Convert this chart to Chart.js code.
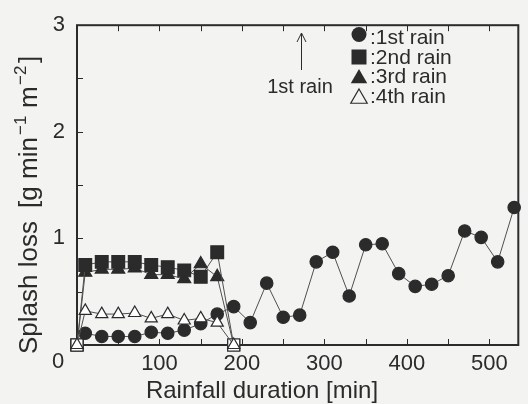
<!DOCTYPE html>
<html>
<head>
<meta charset="utf-8">
<title>Splash loss</title>
<script src="https://cdn.jsdelivr.net/npm/chart.js@4.4.1/dist/chart.umd.min.js"></script>
<style>
  html, body { margin: 0; padding: 0; background: #f3f3f1; }
  canvas { display: block; }
</style>
</head>
<body>
<canvas id="splashChart" width="528" height="404"></canvas>
<script>
// rainfall duration [min]
const time1 = [0, 10, 30, 50, 70, 90, 110, 130, 150, 170, 190, 210, 230, 250, 270, 290, 310, 330, 350, 370, 390, 410, 430, 450, 470, 490, 510, 530];
const time234 = [0, 10, 30, 50, 70, 90, 110, 130, 150, 170, 190];

// splash loss [g min-1 m-2]
const rain1 = [0, 0.11, 0.08, 0.08, 0.08, 0.12, 0.11, 0.14, 0.20, 0.29, 0.36, 0.21, 0.58, 0.26, 0.28, 0.78, 0.87, 0.46, 0.94, 0.95, 0.67, 0.55, 0.57, 0.65, 1.07, 1.01, 0.78, 1.29];
const rain2 = [0, 0.75, 0.78, 0.78, 0.78, 0.75, 0.73, 0.70, 0.64, 0.87, 0];
const rain3 = [0, 0.68, 0.71, 0.71, 0.72, 0.66, 0.66, 0.62, 0.76, 0.64, 0];
const rain4 = [0, 0.32, 0.29, 0.29, 0.30, 0.25, 0.29, 0.23, 0.25, 0.21, 0];

const seriesNames = [':1st rain', ':2nd rain', ':3rd rain', ':4th rain'];
const xTicks = [100, 200, 300, 400, 500];
const yTicks = [1, 2, 3];
const xMinor = [50, 100, 150, 200, 250, 300, 350, 400, 450, 500];
const yMinor = [0.5, 1, 1.5, 2, 2.5];

const INK = '#2b2b2b';
const PAPER = '#f3f3f1';
const FONT = '"Liberation Sans", Arial, sans-serif';

const pairs = (xs, ys) => xs.map((x, i) => ({ x: x, y: ys[i] }));

// zero readings are plotted as open squares
const isZero = c => c.raw && c.raw.y === 0;

function series(xs, ys, style, radius, fill, order) {
  return {
    data: pairs(xs, ys),
    order: order,
    borderColor: '#505050',
    borderWidth: 1,
    tension: 0,
    clip: false,
    pointStyle: c => (isZero(c) && style !== 'triangleOpen') ? 'rect' : (style === 'triangleOpen' ? 'triangle' : style),
    pointRadius: c => (isZero(c) && style !== 'triangleOpen') ? 8.5 : radius,
    pointBackgroundColor: c => (isZero(c) || !fill) ? '#ffffff' : INK,
    pointBorderColor: INK,
    pointBorderWidth: 1.2
  };
}

// frame, inward ticks, titles, legend and the arrow note
const decor = {
  id: 'decor',
  beforeDraw(chart) {
    const ctx = chart.ctx;
    ctx.save();
    ctx.fillStyle = PAPER;
    ctx.fillRect(0, 0, chart.width, chart.height);
    ctx.restore();
  },
  beforeDatasetsDraw(chart) {
    const { ctx, chartArea: a, scales: { x, y } } = chart;
    ctx.save();
    ctx.strokeStyle = INK;
    ctx.lineWidth = 1;
    ctx.beginPath();
    xMinor.forEach(v => {
      const px = Math.round(x.getPixelForValue(v)) + 0.5;
      ctx.moveTo(px, a.bottom); ctx.lineTo(px, a.bottom - 6);
      ctx.moveTo(px, a.top); ctx.lineTo(px, a.top + 6);
    });
    yMinor.forEach(v => {
      const py = Math.round(y.getPixelForValue(v)) + 0.5;
      ctx.moveTo(a.left, py); ctx.lineTo(a.left + 6, py);
    });
    ctx.stroke();
    ctx.lineWidth = 2;
    ctx.strokeRect(a.left, a.top, a.right - a.left, a.bottom - a.top);
    ctx.restore();
  },
  afterDraw(chart) {
    const { ctx } = chart;
    ctx.save();
    ctx.fillStyle = INK;
    ctx.strokeStyle = INK;

    // shared origin label
    ctx.font = '22px ' + FONT;
    ctx.textAlign = 'center';
    ctx.textBaseline = 'middle';
    ctx.fillText('0', 58, 362);

    // x title
    ctx.font = '24px ' + FONT;
    ctx.fillText('Rainfall duration [min]', 262, 391);

    // y title with superscripts
    ctx.save();
    ctx.translate(37, 0);
    ctx.rotate(-Math.PI / 2);
    ctx.textAlign = 'left';
    ctx.textBaseline = 'alphabetic';
    const big = '26px ' + FONT, small = '17px ' + FONT;
    const parts = [
      ['Splash loss', 354, big, 0],
      ['[g', 208, big, 0],
      ['min', 179, big, 0],
      ['\u22121', 135, small, -11],
      ['m', 108, big, 0],
      ['\u22122', 85, small, -11],
      [']', 63, big, 0]
    ];
    parts.forEach(([t, start, f, dy]) => {
      ctx.font = f;
      ctx.fillText(t, -start, dy);
    });
    ctx.restore();

    // legend
    const lx = 359;
    const markerY = [34.5, 57, 77, 97];
    const textY = [38.5, 58, 77.5, 97];
    ctx.lineWidth = 1.2;
    ctx.beginPath();
    ctx.arc(lx, markerY[0], 7.5, 0, Math.PI * 2);
    ctx.fill();
    ctx.fillRect(lx - 7.5, markerY[1] - 7.5, 15, 15);
    const tri = (cy, r) => {
      ctx.beginPath();
      ctx.moveTo(lx, cy - r);
      ctx.lineTo(lx + r * 0.866, cy + r * 0.5);
      ctx.lineTo(lx - r * 0.866, cy + r * 0.5);
      ctx.closePath();
    };
    tri(markerY[2] + 1.5, 9.5);
    ctx.fill();
    tri(markerY[3] + 1.5, 9.5);
    ctx.stroke();

    ctx.font = '21px ' + FONT;
    ctx.textAlign = 'left';
    ctx.textBaseline = 'middle';
    seriesNames.forEach((n, i) => ctx.fillText(n, lx + 11, textY[i]));

    // arrow marking the start of the first rain
    ctx.lineWidth = 1;
    ctx.beginPath();
    ctx.moveTo(301.5, 33); ctx.lineTo(301.5, 70);
    ctx.moveTo(297, 42); ctx.lineTo(301.5, 33); ctx.lineTo(306, 42);
    ctx.stroke();
    ctx.font = '20px ' + FONT;
    ctx.textAlign = 'center';
    ctx.fillText('1st rain', 300, 87);

    ctx.restore();
  }
};

new Chart(document.getElementById('splashChart'), {
  type: 'line',
  data: {
    datasets: [
      series(time234, rain4, 'triangleOpen', 7, false, 0),
      series(time1, rain1, 'circle', 6.2, true, 1),
      series(time234, rain2, 'rect', 9, true, 2),
      series(time234, rain3, 'triangle', 7.5, true, 3)
    ]
  },
  options: {
    responsive: false,
    animation: false,
    events: [],
    layout: { padding: { top: 16, right: 3, left: 0, bottom: 0 } },
    plugins: { legend: { display: false }, tooltip: { enabled: false } },
    scales: {
      x: {
        type: 'linear',
        min: 0,
        max: 535,
        afterBuildTicks: s => { s.ticks = xTicks.map(v => ({ value: v })); },
        afterFit: s => { s.height = 59; },
        grid: { display: false, drawTicks: false },
        border: { display: false },
        ticks: {
          autoSkip: false,
          maxRotation: 0,
          padding: 6,
          color: INK,
          font: { family: FONT, size: 22 }
        }
      },
      y: {
        min: 0,
        max: 3,
        afterBuildTicks: s => { s.ticks = yTicks.map(v => ({ value: v })); },
        afterFit: s => { s.width = 77; },
        grid: { display: false, drawTicks: false },
        border: { display: false },
        ticks: {
          padding: 12,
          color: INK,
          font: { family: FONT, size: 22 }
        }
      }
    }
  },
  plugins: [decor]
});
</script>
</body>
</html>
